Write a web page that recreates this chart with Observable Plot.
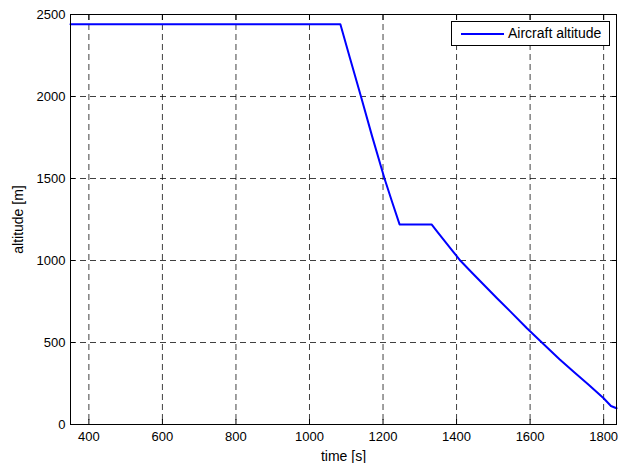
<!DOCTYPE html>
<html><head><meta charset="utf-8">
<script src="https://cdn.jsdelivr.net/npm/d3@7"></script>
<script src="https://cdn.jsdelivr.net/npm/@observablehq/plot@0.6"></script>
<style>
body{margin:0;background:#fff;}
#wrap{position:relative;width:631px;height:463px;font-family:"Liberation Sans",Arial,sans-serif;}
#legend{position:absolute;left:451px;top:21px;width:157px;height:23px;border:1px solid #000;background:#fff;}
#legend .sw{position:absolute;left:9px;top:11px;width:43px;height:2px;background:#0000ff;}
#legend .lb{position:absolute;left:56px;top:3px;font-size:14px;line-height:16px;color:#000;white-space:nowrap;}
</style></head><body><div id="wrap"></div>
<script>
const time = [350, 1084, 1110, 1140, 1170, 1204, 1225, 1245, 1332, 1350, 1370, 1390, 1410, 1440, 1480, 1510, 1546, 1590, 1632, 1680, 1720, 1760, 1800, 1820, 1835];
const altitude = [2440, 2440, 2235, 2000, 1760, 1500, 1355, 1220, 1220, 1168, 1112, 1056, 1000, 930, 838, 770, 690, 590, 500, 398, 318, 241, 160, 113, 99];
const xTicks = [400, 600, 800, 1000, 1200, 1400, 1600, 1800];
const yTicks = [0, 500, 1000, 1500, 2000, 2500];
const xLabel = "time [s]";
const yLabel = "altitude [m]";
const legendLabel = "Aircraft altitude";

const data = time.map((t, i) => ({time: t, altitude: altitude[i]}));
const blank = () => "";
const fmt = d3.format("d");

const plot = Plot.plot({
  width: 631, height: 463,
  marginLeft: 70, marginRight: 15, marginTop: 14, marginBottom: 39,
  style: {fontFamily: "'Liberation Sans', Arial, sans-serif", fontSize: "13px", color: "#000", background: "#fff"},
  x: {domain: [350, 1835]},
  y: {domain: [0, 2500]},
  marks: [
    Plot.ruleX(xTicks, {stroke: "#000", strokeOpacity: 0.75, strokeDasharray: "6,4"}),
    Plot.ruleY(yTicks, {stroke: "#000", strokeOpacity: 0.75, strokeDasharray: "6,4"}),
    Plot.axisX({ticks: xTicks, tickSize: -5, tickPadding: 12, tickFormat: fmt, label: null, fontSize: 13}),
    Plot.axisX({ticks: [], label: xLabel, labelAnchor: "center", labelOffset: 36, labelArrow: "none", fontSize: 14}),
    Plot.axisX({anchor: "top", ticks: xTicks, tickSize: -5, tickFormat: blank, label: null}),
    Plot.axisY({ticks: yTicks, tickSize: -5, tickPadding: 10, tickFormat: fmt, label: null, fontSize: 13}),
    Plot.axisY({ticks: [], label: yLabel, labelAnchor: "center", labelOffset: 57, labelArrow: "none", fontSize: 14}),
    Plot.axisY({anchor: "right", ticks: yTicks, tickSize: -5, tickFormat: blank, label: null}),
    Plot.line(data, {x: "time", y: "altitude", stroke: "#0000ff", strokeWidth: 2}),
    Plot.frame({stroke: "#000"})
  ]
});
const wrap = document.getElementById("wrap");
wrap.appendChild(plot);
const lg = document.createElement("div");
lg.id = "legend";
lg.innerHTML = `<div class="sw"></div><div class="lb"></div>`;
lg.querySelector(".lb").textContent = legendLabel;
wrap.appendChild(lg);
</script></body></html>
